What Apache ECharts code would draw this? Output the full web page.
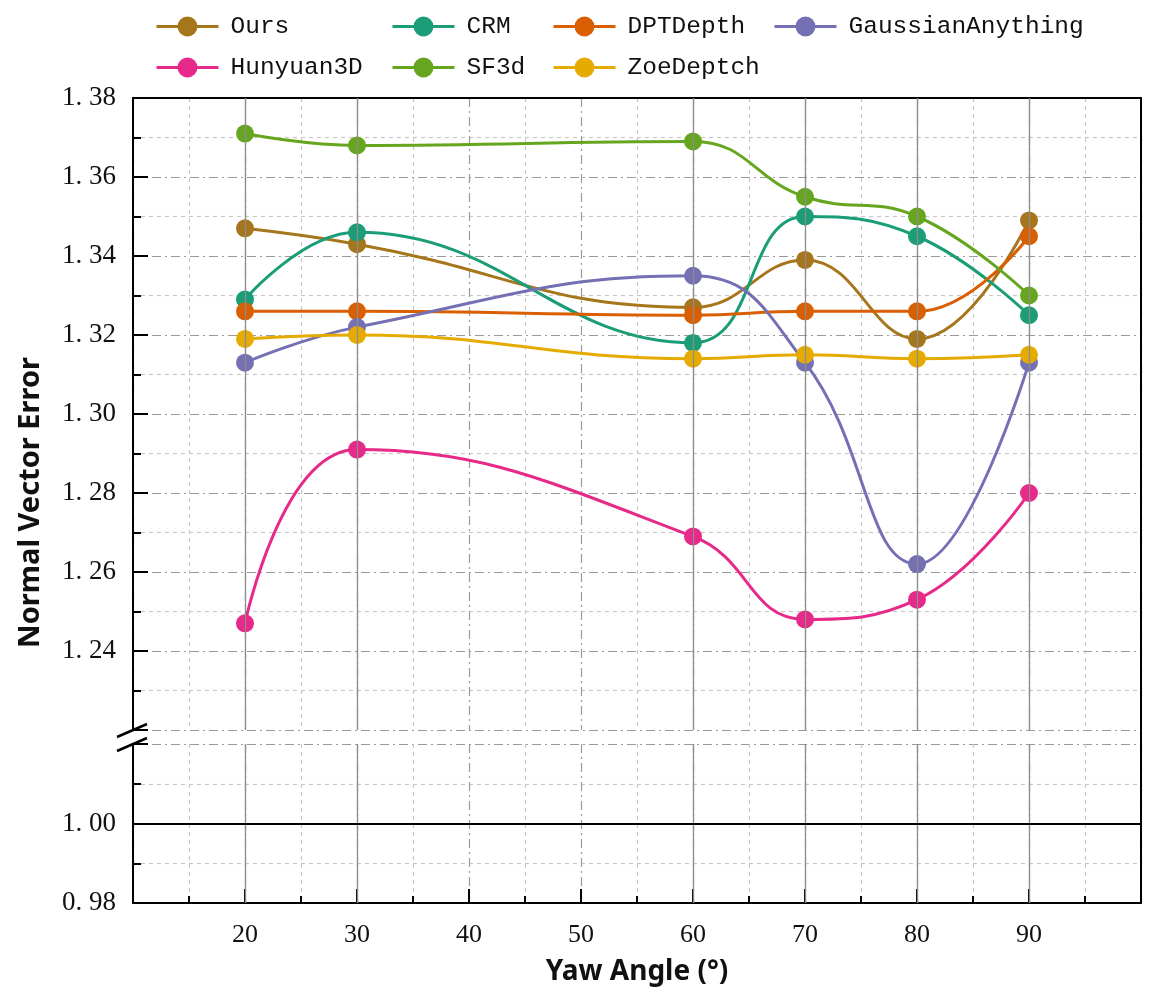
<!DOCTYPE html>
<html>
<head>
<meta charset="utf-8">
<script src="https://cdn.jsdelivr.net/npm/echarts@6/dist/echarts.min.js"></script>
<style>
  html, body { margin: 0; padding: 0; background: #fff; }
  #chart { width: 1158px; height: 997px; }
</style>
</head>
<body>
<div id="chart"></div>
<script>
// yaw angles where each method was measured
const yawAngles = [20, 30, 60, 70, 80, 90]
const xTickLabels = [20, 30, 40, 50, 60, 70, 80, 90]

const ours = [1.347, 1.343, 1.327, 1.339, 1.319, 1.349]
const crm = [1.329, 1.346, 1.318, 1.350, 1.345, 1.325]
const dptDepth = [1.326, 1.326, 1.325, 1.326, 1.326, 1.345]
const gaussianAnything = [1.313, 1.322, 1.335, 1.313, 1.262, 1.313]
const hunyuan3D = [1.247, 1.291, 1.269, 1.248, 1.253, 1.280]
const sf3d = [1.371, 1.368, 1.369, 1.355, 1.350, 1.330]
const zoeDeptch = [1.319, 1.320, 1.314, 1.315, 1.314, 1.315]

// broken y axis: upper and lower segments
const upperRange = [1.22, 1.38]
const lowerRange = [0.98, 1.02]
const hiddenYLabels = [1.22, 1.02]
const baseLine = 1.00

const seriesDefs = [
  { name: 'Ours', data: ours, color: '#a6761d' },
  { name: 'CRM', data: crm, color: '#1b9e77' },
  { name: 'DPTDepth', data: dptDepth, color: '#d95f02' },
  { name: 'GaussianAnything', data: gaussianAnything, color: '#7570b3' },
  { name: 'Hunyuan3D', data: hunyuan3D, color: '#e7298a' },
  { name: 'SF3d', data: sf3d, color: '#66a61e' },
  { name: 'ZoeDeptch', data: zoeDeptch, color: '#e6ab02' }
]

const serif = 'Liberation Serif'
const majorGrid = { show: true, lineStyle: { color: '#9a9a9a', width: 1.2, type: [9, 4, 2, 4] } }
const minorGrid = { show: true, lineStyle: { color: '#c8c8c8', width: 1.2, type: [4, 4] } }

function yLabel(v) {
  if (hiddenYLabels.some(h => Math.abs(h - v) < 1e-6)) return ''
  return v.toFixed(2).replace('.', '. ')
}

function xAxisOf(gridIndex, position, showLabels) {
  return {
    type: 'value',
    gridIndex,
    position,
    min: 10,
    max: 100,
    interval: 10,
    axisLine: { show: true, onZero: false, lineStyle: { color: '#000', width: 2 } },
    axisTick: { show: showLabels, inside: true, length: 14, lineStyle: { color: '#000', width: 2 } },
    minorTick: { show: showLabels, splitNumber: 2, length: 7, lineStyle: { color: '#000', width: 2 } },
    axisLabel: {
      show: showLabels,
      margin: 19,
      fontFamily: serif,
      fontSize: 26,
      color: '#111',
      formatter: v => (xTickLabels.indexOf(v) >= 0 ? String(v) : '')
    },
    splitLine: majorGrid,
    minorSplitLine: minorGrid,
    name: showLabels ? 'Yaw Angle (°)' : '',
    nameLocation: 'middle',
    nameGap: 55,
    nameTextStyle: { fontFamily: 'Noto Sans', fontWeight: 'bold', fontSize: 28, color: '#111' }
  }
}

function yAxisOf(gridIndex, range) {
  return {
    type: 'value',
    gridIndex,
    min: range[0],
    max: range[1],
    interval: 0.02,
    axisLine: { show: true, lineStyle: { color: '#000', width: 2 } },
    axisTick: { inside: true, length: 15, lineStyle: { color: '#000', width: 2 } },
    minorTick: { show: true, splitNumber: 2, length: 8, lineStyle: { color: '#000', width: 2 } },
    axisLabel: { margin: 17, fontFamily: serif, fontSize: 27, color: '#111', formatter: yLabel },
    splitLine: majorGrid,
    minorSplitLine: minorGrid
  }
}

// right border line of each segment
function rightBorderOf(gridIndex, range) {
  return {
    type: 'value',
    gridIndex,
    position: 'right',
    min: range[0],
    max: range[1],
    axisLine: { show: true, lineStyle: { color: '#000', width: 2 } },
    axisTick: { show: false },
    axisLabel: { show: false },
    splitLine: { show: false }
  }
}

const dropLines = {
  silent: true,
  symbol: 'none',
  label: { show: false },
  lineStyle: { color: '#8c8c8c', width: 1.3, type: 'solid' },
  data: yawAngles.map(x => ({ xAxis: x }))
}

const series = seriesDefs.map(s => ({
  name: s.name,
  type: 'line',
  xAxisIndex: 0,
  yAxisIndex: 0,
  smooth: 0.45,
  symbol: 'circle',
  symbolSize: 18,
  z: 3,
  itemStyle: { color: s.color },
  lineStyle: { color: s.color, width: 3 },
  data: yawAngles.map((x, i) => [x, s.data[i]])
}))

series.push({
  type: 'line', xAxisIndex: 0, yAxisIndex: 0, data: [], z: 1,
  markLine: dropLines
})
series.push({
  type: 'line', xAxisIndex: 1, yAxisIndex: 2, data: [], z: 1,
  markLine: dropLines
})
series.push({
  type: 'line', xAxisIndex: 1, yAxisIndex: 2, data: [], z: 2,
  markLine: {
    silent: true,
    symbol: 'none',
    label: { show: false },
    lineStyle: { color: '#000', width: 2, type: 'solid' },
    data: [{ yAxis: baseLine }]
  }
})

const legendBase = {
  orient: 'vertical',
  top: 14,
  padding: 0,
  itemWidth: 62,
  itemHeight: 25,
  itemGap: 16,
  lineStyle: { width: 3 },
  textStyle: { fontFamily: 'Liberation Mono', fontSize: 24.5, color: '#111', padding: [0, 0, 0, 7] }
}

const chart = echarts.init(document.getElementById('chart'), null, { renderer: 'canvas' })
chart.setOption({
  backgroundColor: '#fff',
  animation: false,
  legend: [
    Object.assign({ left: 155, data: ['Ours', 'Hunyuan3D'] }, legendBase),
    Object.assign({ left: 391, data: ['CRM', 'SF3d'] }, legendBase),
    Object.assign({ left: 552, data: ['DPTDepth', 'ZoeDeptch'] }, legendBase),
    Object.assign({ left: 773, data: ['GaussianAnything'] }, legendBase)
  ],
  grid: [
    { left: 133, right: 17, top: 98, height: 632 },
    { left: 133, right: 17, top: 744, height: 159 }
  ],
  xAxis: [xAxisOf(0, 'top', false), xAxisOf(1, 'bottom', true)],
  yAxis: [
    yAxisOf(0, upperRange),
    rightBorderOf(0, upperRange),
    yAxisOf(1, lowerRange),
    rightBorderOf(1, lowerRange)
  ],
  graphic: [
    {
      type: 'text',
      x: 16,
      y: 357,
      rotation: Math.PI / 2,
      style: {
        text: 'Normal Vector Error',
        fontFamily: 'Noto Sans',
        fontWeight: 'bold',
        fontSize: 29,
        fill: '#111',
        align: 'right',
        verticalAlign: 'top'
      }
    },
    // right border runs straight through the break
    { type: 'line', shape: { x1: 1141, y1: 728, x2: 1141, y2: 746 }, style: { stroke: '#000', lineWidth: 2 } },
    // axis break marks
    { type: 'line', shape: { x1: 117, y1: 737, x2: 147, y2: 724 }, style: { stroke: '#000', lineWidth: 2.5 } },
    { type: 'line', shape: { x1: 117, y1: 751, x2: 147, y2: 738 }, style: { stroke: '#000', lineWidth: 2.5 } }
  ],
  series
})
</script>
</body>
</html>
